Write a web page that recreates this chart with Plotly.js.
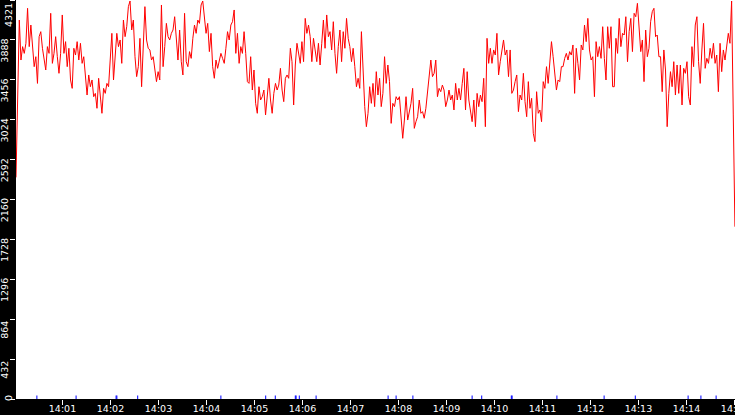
<!DOCTYPE html>
<html>
<head>
<meta charset="utf-8">
<script src="https://cdn.plot.ly/plotly-3.0.1.min.js"></script>
<style>
  html, body { margin: 0; padding: 0; background: #000; }
  #chart { width: 735px; height: 415px; }
</style>
</head>
<body>
<div id="chart"></div>
<script>
// samples, left to right
const startVals = [2400, 3390];
const vals1 = [4104,3671,3816,3743,3852,4231,3816,4050,3816,3599,3707,3418,3924,3978,3798,3671,3563,3816,3743,4177,
  3635,3743,3924,3707,3527,3743,4159,3743,3870,3599,3798,3455,3364,3798,3725,3870,3671,3852,3635,3707,
  3491,3292,3509,3382,3455,3274,3310,3148,3473,3310,3094,3364,3310,3418,3382,3671,3960,3455,3780,3960,
  3816,3888,3635,4104,3924,4032,4249,4310,3996,4104,3707,3491];
const vals2 = [3599,3906,3382,3816,4249,3888,3798,3780,3671,3707,3563,3437,3545,3455,4267,3599,3816,4068,3924,3888,
  3960,3996,4140,3942,3671,3996,3653,3509,4177,3653,3599,3762,3689,3906,4050,3960,4104,4068,4267,4310,
  4140,3960,4068,3762,3960,3599,3473,3671,3581,3653,3743,3689,3635,3798,3978,3888,4050,4086,4213,3743,
  3960,3635,3816,3743,3978,3743,3437,3418,3707,3346,3563,3202];
const vals3 = [3094,3382,3238,3274,3346,3076,3238,3473,3238,3094,3310,3418,3346,3400,3581,3346,3220,3473,3509,3473,
  3798,3653,3184,3617,3852,3743,3635,3870,3653,4122,3960,4050,3924,3653,3906,3780,3653,3852,3617,3852,
  4104,3798,4159,3924,3978,3780,4086,3743,3527,3816,3996,3653,3978,3798,4122,3906,3816,3653,3798,3599,
  3382,3473,3364,3978,3455,3166,2949,3094,3382,3202,3418,3166];
const vals4 = [3545,3292,3473,3166,3310,3707,3418,3617,3437,2985,3202,3166,3274,3238,3274,3040,2823,3021,3274,3021,
  3130,3202,3364,2931,3003,3057,3238,3094,3112,3040,3148,3346,3473,3671,3491,3527,3671,3274,3364,3328,
  3400,3346,3166,3238,3346,3238,3292,3130,3418,3238,3364,3238,3418,3581,3130,3545,3238,3094,3003,3238,
  2949,3310,3166,3292,3220,3473,2949,3906,3635,3798,3635,3780];
const vals5 = [3725,3960,3509,3653,3780,3888,3725,3780,3491,3780,3310,3346,3437,3509,3112,3292,3238,3527,3220,3057,
  3437,3148,3256,2877,2787,3328,3094,3130,3003,3437,3364,3599,3418,3653,3870,3707,3509,3346,3455,3437,
  3599,3599,3689,3743,3671,3762,3725,3834,3310,3798,3635,3455,3834,3780,4050,3870,4122,3780,3671,3707,
  3274,3870,3707,3816,3689,4032,3689,3455,4032,3798,4032,3382];
const vals6 = [3382,3906,3743,4122,3816,3960,3942,4140,3653,3978,4122,3762,4177,4140,4285,3960,3762,3888,3437,3996,
  3707,3798,4086,4195,4231,3924,3942,3707,3707,3328,3780,3563,2949,3310,3545,3382,3653,3292,3617,3310,
  3617,3184,3581,3527,3653,3274,3184,3816,3599,4050,4140,3653,3418,3780,4068,3581,3689,3635,3798,3689,
  3852,3635,3725,3328,3852,3545,3780,3671,3834,3960,3852,4310];
const endVals = [3076, 1866];

// small blue event marks along the bottom
const eventTimes = ['14:00:28','14:01:17','14:02:07','14:02:08','14:02:34','14:04:18','14:05:14','14:05:26',
  '14:05:51','14:05:52','14:05:56','14:06:17','14:07:47','14:07:57','14:08:18','14:09:32','14:09:44',
  '14:10:21','14:10:22','14:11:18','14:12:17','14:12:56','14:14:02','14:14:18','14:14:37'];

const yTicks = [0, 432, 864, 1296, 1728, 2160, 2592, 3024, 3456, 3888, 4321];
// first and last labels are placed by hand (annotations) so they stay inside the strip
const yTickText = ['', '432', '864', '1296', '1728', '2160', '2592', '3024', '3456', '3888', ''];

const DAY = '2024-05-14';
const rangeStart = DAY + ' 14:00:01.9';
const rangeEnd = DAY + ' 14:15:00.6';

const values = [].concat(startVals, vals1, vals2, vals3, vals4, vals5, vals6, endVals);

// evenly sampled timestamps across the window
const t0 = Date.UTC(2024, 4, 14, 14, 0, 1, 900);
const t1 = Date.UTC(2024, 4, 14, 14, 15, 0, 500);
const step = (t1 - t0) / (values.length - 1);
const times = values.map((_, i) => t0 + i * step);

const font = {family: 'DejaVu Sans, sans-serif', size: 9.5, color: '#ffffff'};

const traces = [
  {
    type: 'scatter',
    mode: 'lines',
    x: times,
    y: values,
    line: {color: '#ff0000', width: 1},
    hoverinfo: 'skip',
    showlegend: false
  },
  {
    type: 'scatter',
    mode: 'markers',
    x: eventTimes.map(t => DAY + ' ' + t),
    y: eventTimes.map(() => 0),
    marker: {symbol: 'line-ns', size: 5, line: {color: '#0000ff', width: 1}},
    hoverinfo: 'skip',
    showlegend: false
  }
];

function edgeLabel(text, y, shift) {
  return {
    xref: 'paper', yref: 'y',
    x: -0.011, y: y,
    xanchor: 'center', yanchor: 'middle',
    yshift: shift,
    textangle: -90,
    text: text,
    showarrow: false,
    font: font
  };
}

const layout = {
  width: 735,
  height: 415,
  margin: {l: 16, r: 0, t: 0, b: 16, pad: 0},
  paper_bgcolor: '#000000',
  plot_bgcolor: '#ffffff',
  font: font,
  showlegend: false,
  xaxis: {
    type: 'date',
    range: [rangeStart, rangeEnd],
    tick0: DAY + ' 14:00:00',
    dtick: 60000,
    tickformat: '%H:%M',
    ticks: 'outside',
    ticklen: 5,
    tickwidth: 1,
    tickcolor: '#ffffff',
    tickfont: font,
    ticklabelstandoff: -4,
    ticklabeloverflow: 'allow',
    showgrid: false,
    zeroline: false,
    showline: false
  },
  yaxis: {
    range: [0, 4321],
    tickmode: 'array',
    tickvals: yTicks,
    ticktext: yTickText,
    tickangle: -90,
    ticks: 'outside',
    ticklen: 5,
    tickwidth: 1,
    tickcolor: '#ffffff',
    tickfont: font,
    ticklabelshift: 12,
    ticklabelstandoff: -2,
    ticklabeloverflow: 'allow',
    showgrid: false,
    zeroline: false,
    showline: false
  },
  annotations: [
    edgeLabel('0', 0, 1),
    edgeLabel('4321', 4321, -15)
  ]
};

Plotly.newPlot('chart', traces, layout, {displayModeBar: false, staticPlot: true});
</script>
</body>
</html>
